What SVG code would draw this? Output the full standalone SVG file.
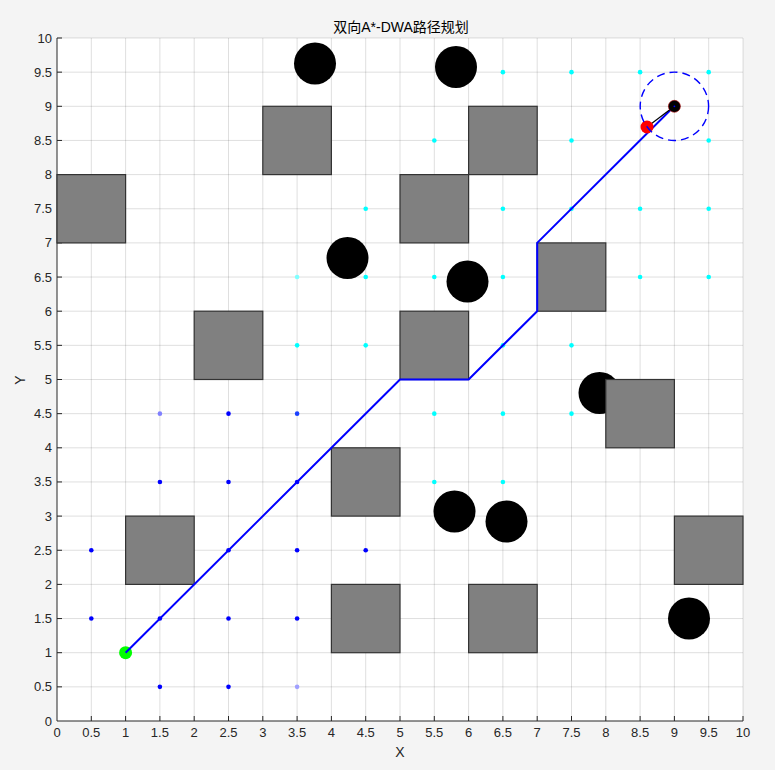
<svg xmlns="http://www.w3.org/2000/svg" width="775" height="770" viewBox="0 0 775 770">
<style>
.grid{stroke:#262626;stroke-opacity:0.15;stroke-width:1;fill:none}
.ax{stroke:#262626;stroke-width:1;fill:none}
.tl{font-family:"Liberation Sans",Arial,sans-serif;font-size:13px;fill:#262626}
.obs{fill:#808080;stroke:#333333;stroke-width:1.2}
.circ{fill:#000000}
.bd{fill:#0000ff}
.cd{fill:#00ffff}
</style>
<rect x="0" y="0" width="775" height="770" fill="#f4f4f4"/>
<rect x="57" y="38" width="686" height="683" fill="#ffffff"/>
<g id="grid" class="grid">
<path d="M91.3 38V721M125.6 38V721M159.9 38V721M194.2 38V721M228.5 38V721M262.8 38V721M297.1 38V721M331.4 38V721M365.7 38V721M400 38V721M434.3 38V721M468.6 38V721M502.9 38V721M537.2 38V721M571.5 38V721M605.8 38V721M640.1 38V721M674.4 38V721M708.7 38V721M743 38V721"/>
<path d="M57 686.85H743M57 652.7H743M57 618.55H743M57 584.4H743M57 550.25H743M57 516.1H743M57 481.95H743M57 447.8H743M57 413.65H743M57 379.5H743M57 345.35H743M57 311.2H743M57 277.05H743M57 242.9H743M57 208.75H743M57 174.6H743M57 140.45H743M57 106.3H743M57 72.15H743M57 38H743"/>
</g>
<g id="axes" class="ax">
<path d="M57 38V721H743"/>
<path d="M91.3 721v-5M125.6 721v-5M159.9 721v-5M194.2 721v-5M228.5 721v-5M262.8 721v-5M297.1 721v-5M331.4 721v-5M365.7 721v-5M400 721v-5M434.3 721v-5M468.6 721v-5M502.9 721v-5M537.2 721v-5M571.5 721v-5M605.8 721v-5M640.1 721v-5M674.4 721v-5M708.7 721v-5M743 721v-5"/>
<path d="M57 686.85h5M57 652.7h5M57 618.55h5M57 584.4h5M57 550.25h5M57 516.1h5M57 481.95h5M57 447.8h5M57 413.65h5M57 379.5h5M57 345.35h5M57 311.2h5M57 277.05h5M57 242.9h5M57 208.75h5M57 174.6h5M57 140.45h5M57 106.3h5M57 72.15h5M57 38h5"/>
</g>
<g id="xticklabels" class="tl" text-anchor="middle">
<text x="57" y="737">0</text><text x="91.3" y="737">0.5</text><text x="125.6" y="737">1</text><text x="159.9" y="737">1.5</text><text x="194.2" y="737">2</text><text x="228.5" y="737">2.5</text><text x="262.8" y="737">3</text><text x="297.1" y="737">3.5</text><text x="331.4" y="737">4</text><text x="365.7" y="737">4.5</text><text x="400" y="737">5</text><text x="434.3" y="737">5.5</text><text x="468.6" y="737">6</text><text x="502.9" y="737">6.5</text><text x="537.2" y="737">7</text><text x="571.5" y="737">7.5</text><text x="605.8" y="737">8</text><text x="640.1" y="737">8.5</text><text x="674.4" y="737">9</text><text x="708.7" y="737">9.5</text><text x="743" y="737">10</text>
</g>
<g id="yticklabels" class="tl" text-anchor="end">
<text x="52" y="725.5">0</text><text x="52" y="691.35">0.5</text><text x="52" y="657.2">1</text><text x="52" y="623.05">1.5</text><text x="52" y="588.9">2</text><text x="52" y="554.75">2.5</text><text x="52" y="520.6">3</text><text x="52" y="486.45">3.5</text><text x="52" y="452.3">4</text><text x="52" y="418.15">4.5</text><text x="52" y="384">5</text><text x="52" y="349.85">5.5</text><text x="52" y="315.7">6</text><text x="52" y="281.55">6.5</text><text x="52" y="247.4">7</text><text x="52" y="213.25">7.5</text><text x="52" y="179.1">8</text><text x="52" y="144.95">8.5</text><text x="52" y="110.8">9</text><text x="52" y="76.65">9.5</text><text x="52" y="42.5">10</text>
</g>
<text id="title" x="401" y="32" text-anchor="middle" font-family="'Liberation Sans','Noto Sans CJK SC',sans-serif" font-size="14" fill="#000000">双向A*-DWA路径规划</text>
<text id="xlabel" x="400" y="757" text-anchor="middle" font-family="'Liberation Sans',Arial,sans-serif" font-size="14" fill="#262626">X</text>
<text id="ylabel" x="0" y="0" transform="translate(25,380) rotate(-90)" text-anchor="middle" font-family="'Liberation Sans',Arial,sans-serif" font-size="14" fill="#262626">Y</text>
<g id="circle-obstacles" class="circ">
<circle cx="315" cy="63.5" r="21"/>
<circle cx="456" cy="67" r="21"/>
<circle cx="347.5" cy="258" r="21"/>
<circle cx="467.5" cy="281.5" r="21"/>
<circle cx="599.5" cy="393" r="21"/>
<circle cx="454.5" cy="511.5" r="21"/>
<circle cx="506.5" cy="521.5" r="21"/>
<circle cx="689" cy="618.5" r="21"/>
</g>
<g id="square-obstacles" class="obs">
<rect x="57" y="174.6" width="68.6" height="68.3"/>
<rect x="262.8" y="106.3" width="68.6" height="68.3"/>
<rect x="468.6" y="106.3" width="68.6" height="68.3"/>
<rect x="400" y="174.6" width="68.6" height="68.3"/>
<rect x="194.2" y="311.2" width="68.6" height="68.3"/>
<rect x="400" y="311.2" width="68.6" height="68.3"/>
<rect x="537.2" y="242.9" width="68.6" height="68.3"/>
<rect x="605.8" y="379.5" width="68.6" height="68.3"/>
<rect x="331.4" y="447.8" width="68.6" height="68.3"/>
<rect x="125.6" y="516.1" width="68.6" height="68.3"/>
<rect x="674.4" y="516.1" width="68.6" height="68.3"/>
<rect x="331.4" y="584.4" width="68.6" height="68.3"/>
<rect x="468.6" y="584.4" width="68.6" height="68.3"/>
</g>
<g id="forward-search" class="bd">
<circle cx="91.3" cy="550.25" r="2.3"/><circle cx="91.3" cy="618.55" r="2.3"/>
<circle cx="159.9" cy="686.85" r="2.3"/><circle cx="228.5" cy="686.85" r="2.3"/>
<circle cx="159.9" cy="481.95" r="2.3"/><circle cx="228.5" cy="481.95" r="2.3"/>
<circle cx="228.5" cy="413.65" r="2.3"/><circle cx="297.1" cy="413.65" r="2.3" fill="#1a40ff"/>
<circle cx="228.5" cy="550.25" r="2.3"/><circle cx="297.1" cy="550.25" r="2.3"/><circle cx="365.7" cy="550.25" r="2.3"/>
<circle cx="159.9" cy="618.55" r="2.3"/><circle cx="228.5" cy="618.55" r="2.3"/><circle cx="297.1" cy="618.55" r="2.3"/>
<circle cx="297.1" cy="481.95" r="2.3"/>
<circle cx="159.9" cy="413.65" r="2.3" fill="#8080ff"/><circle cx="297.1" cy="686.85" r="2.3" fill="#a0a0ff"/>
</g>
<g id="backward-search" class="cd">
<circle cx="502.9" cy="72.15" r="2.3"/><circle cx="571.5" cy="72.15" r="2.3"/><circle cx="640.1" cy="72.15" r="2.3"/><circle cx="708.7" cy="72.15" r="2.3"/>
<circle cx="434.3" cy="140.45" r="2.3"/><circle cx="571.5" cy="140.45" r="2.3"/><circle cx="708.7" cy="140.45" r="2.3"/>
<circle cx="365.7" cy="208.75" r="2.3"/><circle cx="502.9" cy="208.75" r="2.3"/><circle cx="571.5" cy="208.75" r="2.3"/><circle cx="640.1" cy="208.75" r="2.3"/><circle cx="708.7" cy="208.75" r="2.3"/>
<circle cx="297.1" cy="277.05" r="2.3" fill="#80ffff"/><circle cx="365.7" cy="277.05" r="2.3"/><circle cx="434.3" cy="277.05" r="2.3"/><circle cx="502.9" cy="277.05" r="2.3"/><circle cx="640.1" cy="277.05" r="2.3"/><circle cx="708.7" cy="277.05" r="2.3"/>
<circle cx="297.1" cy="345.35" r="2.3"/><circle cx="365.7" cy="345.35" r="2.3"/><circle cx="502.9" cy="345.35" r="2.3"/><circle cx="571.5" cy="345.35" r="2.3"/>
<circle cx="434.3" cy="413.65" r="2.3"/><circle cx="502.9" cy="413.65" r="2.3"/><circle cx="571.5" cy="413.65" r="2.3"/>
<circle cx="434.3" cy="481.95" r="2.3"/><circle cx="502.9" cy="481.95" r="2.3"/>
</g>
<circle id="start" cx="125.6" cy="652.7" r="6.5" fill="#00ff00"/>
<g id="connectors">
<polyline id="path" points="125.6,652.7 400,379.5 468.6,379.5 537.2,311.2 537.2,242.9 672,108.5" fill="none" stroke="#0000ff" stroke-width="2" stroke-linejoin="round"/>
<line x1="647" y1="127" x2="674.4" y2="106.3" stroke="#000000" stroke-width="1.2"/>
</g>
<circle id="robot" cx="647" cy="127" r="6.5" fill="#ff0000"/>
<circle id="goal" cx="674.4" cy="106.3" r="6" fill="#000000" stroke="#aa0000" stroke-width="0.6"/>
<circle cx="674.4" cy="106.3" r="0.9" fill="#0000ff"/>
<circle id="goal-zone" cx="674.4" cy="106.3" r="34.2" fill="none" stroke="#0000ff" stroke-width="1.4" stroke-dasharray="8,5"/>
</svg>
